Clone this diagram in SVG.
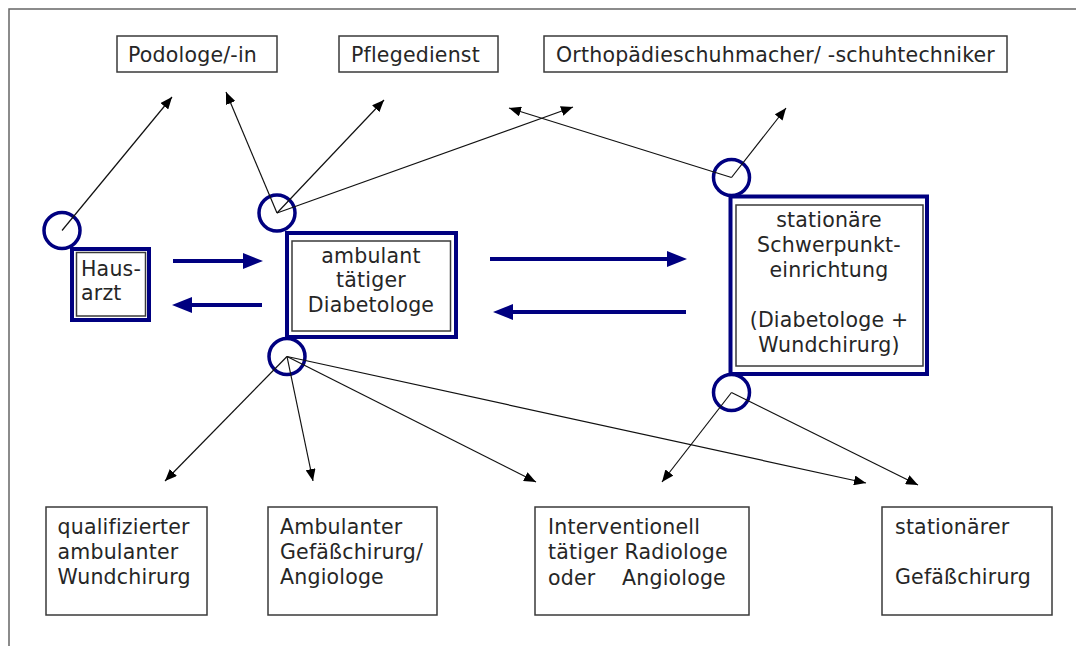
<svg xmlns="http://www.w3.org/2000/svg" width="1076" height="646" viewBox="0 0 1076 646">
  <defs>
    <style>
      text { font-family: "DejaVu Sans", Verdana, sans-serif; font-size: 20.5px; letter-spacing: 0.2px; fill: #262626; }
      .mid { text-anchor: middle; }
      .plain { fill: #ffffff; stroke: #3a3a3a; stroke-width: 1.5; }
      .outer { fill: #ffffff; stroke: #000080; stroke-width: 4; }
      .inner { fill: none; stroke: #3a3a3a; stroke-width: 1.5; }
      .hub { fill: none; stroke: #000080; stroke-width: 3.5; }
      .link { fill: none; stroke: #111111; stroke-width: 1.2; marker-end: url(#tip); }
      .flow { fill: none; stroke: #000080; stroke-width: 4; marker-end: url(#bigtip); }
      .frame { stroke: #666666; stroke-width: 1.5; fill: none; }
    </style>
    <marker id="tip" viewBox="0 0 12 10" refX="12" refY="5" markerWidth="12" markerHeight="10" orient="auto" markerUnits="userSpaceOnUse">
      <path d="M0,0 L12,5 L0,10 z" fill="#000000"/>
    </marker>
    <marker id="bigtip" viewBox="0 0 20 16" refX="2" refY="8" markerWidth="20" markerHeight="16" orient="auto" markerUnits="userSpaceOnUse">
      <path d="M0,0 L20,8 L0,16 z" fill="#000080"/>
    </marker>
  </defs>

  <rect width="1076" height="646" fill="#ffffff"/>
  <!-- page frame (top and left edges only) -->
  <path class="frame" d="M9,646 V9 H1076"/>

  <!-- top row -->
  <g id="podologe">
    <rect class="plain" x="117" y="36" width="160" height="36"/>
    <text x="128" y="62">Podologe/-in</text>
  </g>
  <g id="pflegedienst">
    <rect class="plain" x="339" y="36" width="159" height="36"/>
    <text x="351" y="62">Pflegedienst</text>
  </g>
  <g id="orthopaedie">
    <rect class="plain" x="544" y="36" width="463" height="36"/>
    <text x="556" y="62">Orthopädieschuhmacher/ -schuhtechniker</text>
  </g>

  <!-- middle row -->
  <g id="hausarzt">
    <rect class="outer" x="72" y="249" width="77" height="71"/>
    <rect class="inner" x="76.5" y="252.5" width="69" height="63.5"/>
    <text x="81" y="276">Haus-</text>
    <text x="81" y="300">arzt</text>
    <circle class="hub" cx="62" cy="230.5" r="18"/>
  </g>
  <g id="ambulant">
    <rect class="outer" x="287" y="233" width="169" height="104"/>
    <rect class="inner" x="292" y="241" width="158.5" height="90"/>
    <text class="mid" x="371" y="263">ambulant</text>
    <text class="mid" x="371" y="287">tätiger</text>
    <text class="mid" x="371" y="312">Diabetologe</text>
    <circle class="hub" cx="277" cy="213" r="18"/>
    <circle class="hub" cx="287" cy="356.5" r="18"/>
  </g>
  <g id="stationaer">
    <rect class="outer" x="730.5" y="196.5" width="196.5" height="177.5"/>
    <rect class="inner" x="736" y="205" width="187" height="161"/>
    <text class="mid" x="829" y="227">stationäre</text>
    <text class="mid" x="829" y="252">Schwerpunkt-</text>
    <text class="mid" x="829" y="277">einrichtung</text>
    <text class="mid" x="829" y="327">(Diabetologe +</text>
    <text class="mid" x="829" y="352">Wundchirurg)</text>
    <circle class="hub" cx="731.5" cy="177.5" r="18"/>
    <circle class="hub" cx="731.5" cy="392.5" r="18"/>
  </g>

  <!-- bottom row -->
  <g id="wundchirurg">
    <rect class="plain" x="46" y="507" width="161" height="108"/>
    <text x="57.5" y="534">qualifizierter</text>
    <text x="57.5" y="559">ambulanter</text>
    <text x="57.5" y="584">Wundchirurg</text>
  </g>
  <g id="gefaesschirurg-ambulant">
    <rect class="plain" x="268" y="507" width="169" height="108"/>
    <text x="280" y="534">Ambulanter</text>
    <text x="280" y="559">Gefäßchirurg/</text>
    <text x="280" y="584">Angiologe</text>
  </g>
  <g id="radiologe">
    <rect class="plain" x="535" y="507" width="214" height="108"/>
    <text x="548" y="534">Interventionell</text>
    <text x="548" y="559">tätiger Radiologe</text>
    <text y="585"><tspan x="548">oder</tspan><tspan x="622">Angiologe</tspan></text>
  </g>
  <g id="gefaesschirurg-stationaer">
    <rect class="plain" x="882" y="507" width="170" height="108"/>
    <text x="895" y="534">stationärer</text>
    <text x="895" y="584">Gefäßchirurg</text>
  </g>

  <!-- connectors -->
  <g id="connectors">
    <!-- patient hand-over between the care levels -->
    <line class="flow" x1="173" y1="261" x2="245" y2="261"/>
    <line class="flow" x1="262" y1="305" x2="190" y2="305"/>
    <line class="flow" x1="490" y1="259" x2="669" y2="259"/>
    <line class="flow" x1="686" y1="312" x2="511" y2="312"/>

    <!-- referrals to the top row -->
    <line class="link" x1="62" y1="230.5" x2="172" y2="97"/>
    <line class="link" x1="277" y1="213" x2="226" y2="92"/>
    <line class="link" x1="277" y1="213" x2="384" y2="100"/>
    <line class="link" x1="277" y1="213" x2="573" y2="107"/>
    <line class="link" x1="731.5" y1="177.5" x2="509" y2="108"/>
    <line class="link" x1="731.5" y1="177.5" x2="786" y2="108"/>

    <!-- referrals to the bottom row -->
    <line class="link" x1="287" y1="356.5" x2="165" y2="481"/>
    <line class="link" x1="287" y1="356.5" x2="313" y2="481"/>
    <line class="link" x1="287" y1="356.5" x2="536" y2="482"/>
    <line class="link" x1="287" y1="356.5" x2="866" y2="483"/>
    <line class="link" x1="731.5" y1="392.5" x2="662" y2="482"/>
    <line class="link" x1="731.5" y1="392.5" x2="918" y2="485"/>
  </g>
</svg>
